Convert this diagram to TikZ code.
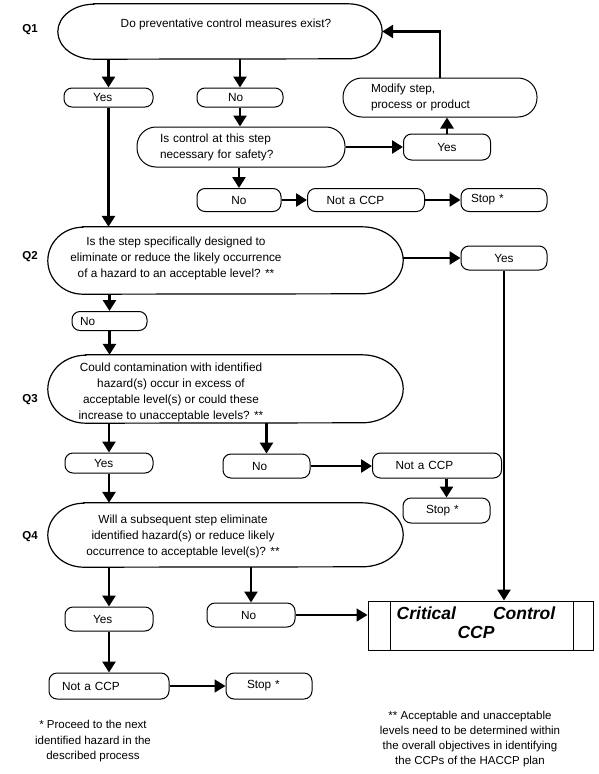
\documentclass[tikz,border=0pt]{standalone}
\usepackage{fontspec}
\setmainfont{Liberation Sans}
\usetikzlibrary{arrows.meta}
\newcommand\drawqshape[4]{\draw[line width=1.2pt] ([xshift=#2]#1.north west) -- ([xshift=-#3]#1.north east) arc[start angle=90,end angle=-90,x radius=#3,y radius=#4] -- ([xshift=#2]#1.south west) arc[start angle=270,end angle=90,x radius=#2,y radius=#4] -- cycle;}
\begin{document}
\begin{tikzpicture}[x=1pt,y=-1pt,
  every node/.style={font=\fontsize{11.8}{16}\selectfont},
  box/.style={draw, line width=1pt, rounded corners=8pt, inner sep=0pt, align=center},
  lp/.style 2 args={text width=#1, inner xsep=#2, align=left},
  qshape/.style={inner sep=0pt},
  qtext/.style={align=center, inner sep=0pt},
  qlab/.style={font=\fontsize{11.5}{14}\selectfont\bfseries},
  arr/.style={line width=2.6pt, -{Triangle[length=11pt,width=13pt]}},
  arrt/.style={line width=1.7pt, -{Triangle[length=11pt,width=13pt]}}
]
\useasboundingbox (0,0) rectangle (599,774);

% Q1 block
\node[qshape, minimum width=324pt, minimum height=55pt] (q1) at (220,31.5) {};
\drawqshape{q1}{36pt}{34pt}{27.5pt}
\node[qtext] (q1t) at (226,24) {Do preventative control measures exist?};
\node[qlab] (l1) at (30,30) {Q1};
\node[box, minimum width=89pt, minimum height=19pt, lp={31pt}{29pt}] (yes1) at (108.5,97.5) {Yes};
\node[box, minimum width=86pt, minimum height=19pt, lp={24pt}{31pt}] (no1) at (240,97.5) {No};
\node[box, rounded corners=19pt, minimum height=40pt, lp={162pt}{23pt}] (ctrl) at (241,147) {Is control at this step\\necessary for safety?};
\node[box, rounded corners=19pt, minimum height=39pt, lp={138pt}{28pt}] (modify) at (440,97.5) {Modify step,\\process or product};
\node[box, minimum width=87pt, minimum height=26pt] (yes2) at (447,147) {Yes};
\node[box, minimum width=84pt, minimum height=23pt] (no2) at (239,200) {No};
\node[box, minimum width=117pt, minimum height=23pt, lp={79pt}{19pt}] (ncp1) at (366,200) {Not a CCP};
\node[box, minimum width=86pt, minimum height=23pt, lp={66pt}{10pt}] (stop1) at (504,200) {Stop *};

% Q2 block
\node[qshape, minimum width=355pt, minimum height=67pt] (q2) at (225.5,260.5) {};
\drawqshape{q2}{35pt}{41pt}{33.5pt}
\node[qtext] (q2t) at (176,258) {Is the step specifically designed to\\eliminate or reduce the likely occurrence\\of a hazard to an acceptable level? **};
\node[qlab] (l2) at (30,257) {Q2};
\node[box, minimum width=86pt, minimum height=24pt] (q2yes) at (504,258) {Yes};
\node[box, minimum width=75pt, minimum height=19pt, lp={59pt}{8pt}] (q2no) at (109.5,321) {No};

% Q3 block
\node[qshape, minimum width=355pt, minimum height=68pt] (q3) at (225.5,389) {};
\drawqshape{q3}{38pt}{41pt}{34pt}
\node[qtext] (q3t) at (171,392) {Could contamination with identified\\hazard(s) occur in excess of\\acceptable level(s) or could these\\increase to unacceptable levels? **};
\node[qlab] (l3) at (30,400) {Q3};
\node[box, minimum width=88pt, minimum height=20pt, lp={30pt}{29pt}] (q3yes) at (109,463) {Yes};
\node[box, minimum width=87pt, minimum height=24pt, lp={29pt}{29pt}] (q3no) at (266.5,466) {No};
\node[box, minimum width=129pt, minimum height=25pt, lp={83pt}{23pt}] (q3ncp) at (437,465.5) {Not a CCP};
\node[box, minimum width=87pt, minimum height=25pt, lp={41pt}{23pt}] (q3stop) at (446.5,510.5) {Stop *};

% Q4 block
\node[qshape, minimum width=355pt, minimum height=64pt] (q4) at (225.5,535) {};
\drawqshape{q4}{36pt}{41pt}{32pt}
\node[qtext] (q4t) at (183,536) {Will a subsequent step eliminate\\identified hazard(s) or reduce likely\\occurrence to acceptable level(s)? **};
\node[qlab] (l4) at (30,537) {Q4};
\node[box, minimum width=88pt, minimum height=24pt, lp={32pt}{28pt}] (q4yes) at (109,619) {Yes};
\node[box, minimum width=88pt, minimum height=24pt, lp={20pt}{34pt}] (q4no) at (251,615) {No};
\node[box, minimum width=120pt, minimum height=26pt, lp={94pt}{13pt}] (ncp4) at (109,686) {Not a CCP};
\node[box, minimum width=86pt, minimum height=26pt, lp={44pt}{21pt}] (stop4) at (269,686) {Stop *};

% CCP box
\node[draw, line width=1pt, minimum width=225pt, minimum height=49pt, inner sep=0pt] (ccp) at (480.5,625.5) {};
\draw[line width=1pt] ([xshift=23pt]ccp.north west) -- ([xshift=23pt]ccp.south west);
\draw[line width=1pt] ([xshift=-20pt]ccp.north east) -- ([xshift=-20pt]ccp.south east);
\node[font=\fontsize{17.5}{19}\selectfont\bfseries\itshape, align=center, inner sep=0pt] (ccpt) at (476,622.5) {Critical\hspace{37pt}Control\\CCP};

% footnotes
\node[align=center, font=\fontsize{11.5}{15.5}\selectfont] (fn1) at (93,741.5) {* Proceed to the next\\identified hazard in the\\described process};
\node[align=center, font=\fontsize{11.5}{15}\selectfont] (fn2) at (470,739.5) {** Acceptable and unacceptable\\levels need to be determined within\\the overall objectives in identifying\\the CCPs of the HACCP plan};

% connectors
\draw[arr] (q1.south -| yes1.north) -- (yes1.north);
\draw[arr] (q1.south -| no1.north) -- (no1.north);
\draw[arr] (no1.south) -- (no1.south |- ctrl.north);
\draw[arr] (ctrl.east) -- (yes2.west);
\draw[arr] (yes2.north) -- (yes2.north |- modify.south);
\draw[arr] (modify.north) |- (q1.east);
\draw[arr] (ctrl.south -| no2.north) -- (no2.north);
\draw[arr] (no2.east) -- (ncp1.west);
\draw[arr] (ncp1.east) -- (stop1.west);
\draw[arr] (yes1.south) -- (yes1.south |- q2.north);
\draw[arr] (q2yes.west -| q2.east) -- (q2yes.west);
\draw[arr] (q2yes.south) -- (q2yes.south |- ccp.north);
\draw[arr] (q2.south -| q2no.north) -- (q2no.north);
\draw[arr] (q2no.south) -- (q2no.south |- q3.north);
\draw[arr] (q3.south -| q3yes.north) -- (q3yes.north);
\draw[arr] (q3.south -| q3no.north) -- (q3no.north);
\draw[arr] (q3no.east) -- (q3no.east -| q3ncp.west);
\draw[arr] (q3ncp.south -| q3stop.north) -- (q3stop.north);
\draw[arr] (q3yes.south) -- (q3yes.south |- q4.north);
\draw[arr] (q4.south -| q4yes.north) -- (q4yes.north);
\draw[arr] (q4.south -| q4no.north) -- (q4no.north);
\draw[arrt] (q4no.east) -- (q4no.east -| ccp.west);
\draw[arr] (q4yes.south) -- (q4yes.south |- ncp4.north);
\draw[arrt] (ncp4.east) -- (stop4.west);
\end{tikzpicture}
\end{document}
